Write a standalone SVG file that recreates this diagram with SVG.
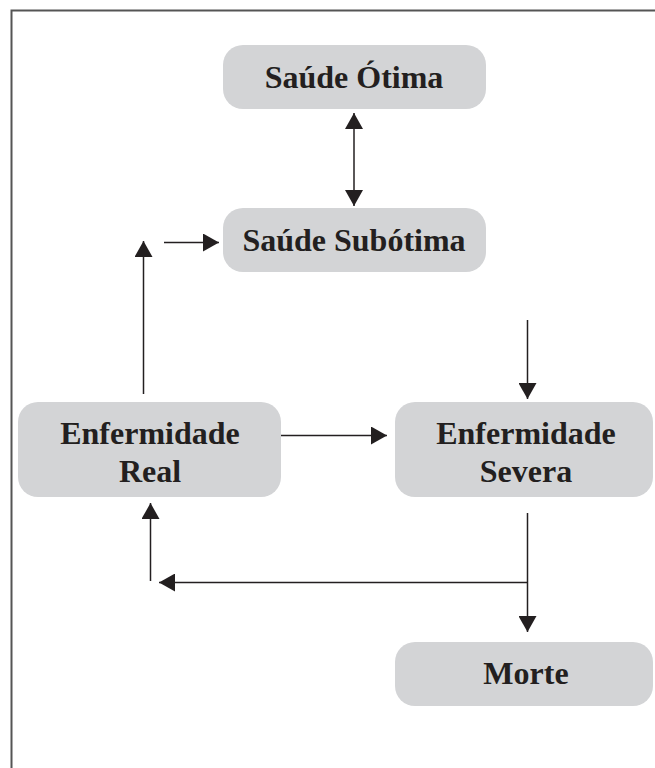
<svg xmlns="http://www.w3.org/2000/svg" width="655" height="768" viewBox="0 0 655 768">
<style>
.box{fill:#d3d4d6}
.t{font-family:"Liberation Serif","Times New Roman",serif;font-weight:bold;font-size:32px;fill:#231f20;text-anchor:middle}
.c{stroke:#231f20;stroke-width:1.5;fill:none}
</style>
<defs>
<marker id="ah" viewBox="0 0 16 18" refX="16" refY="9" markerWidth="16" markerHeight="18" markerUnits="userSpaceOnUse" orient="auto-start-reverse">
<path d="M0,0 L16,9 L0,18 z" fill="#231f20"/>
</marker>
</defs>
<rect width="655" height="768" fill="#fff"/>
<path d="M11.5,768 V10.5 H655" stroke="#555" stroke-width="2" fill="none"/>
<g id="n1"><rect class="box" x="223" y="45" width="263" height="64" rx="20"/><text class="t" x="354" y="88">Saúde Ótima</text></g>
<g id="n2"><rect class="box" x="223" y="208" width="263" height="64" rx="20"/><text class="t" x="354" y="251">Saúde Subótima</text></g>
<g id="n3"><rect class="box" x="18" y="402" width="263" height="95" rx="20"/><text class="t" x="150" y="444">Enfermidade</text><text class="t" x="150" y="482">Real</text></g>
<g id="n4"><rect class="box" x="395" y="402" width="258" height="95" rx="20"/><text class="t" x="526" y="444">Enfermidade</text><text class="t" x="526" y="482">Severa</text></g>
<g id="n5"><rect class="box" x="395" y="642" width="258" height="64" rx="20"/><text class="t" x="526" y="684">Morte</text></g>
<g id="connectors">
<line class="c" x1="354" y1="113" x2="354" y2="206" marker-start="url(#ah)" marker-end="url(#ah)"/>
<line class="c" x1="164" y1="242.5" x2="219" y2="242.5" marker-end="url(#ah)"/>
<line class="c" x1="143.5" y1="394" x2="143.5" y2="241" marker-end="url(#ah)"/>
<line class="c" x1="527.5" y1="320" x2="527.5" y2="399" marker-end="url(#ah)"/>
<line class="c" x1="281" y1="435.5" x2="387" y2="435.5" marker-end="url(#ah)"/>
<line class="c" x1="150.5" y1="581" x2="150.5" y2="503" marker-end="url(#ah)"/>
<line class="c" x1="527.5" y1="582.5" x2="159" y2="582.5" marker-end="url(#ah)"/>
<line class="c" x1="527.5" y1="513" x2="527.5" y2="632" marker-end="url(#ah)"/>
</g>
</svg>
